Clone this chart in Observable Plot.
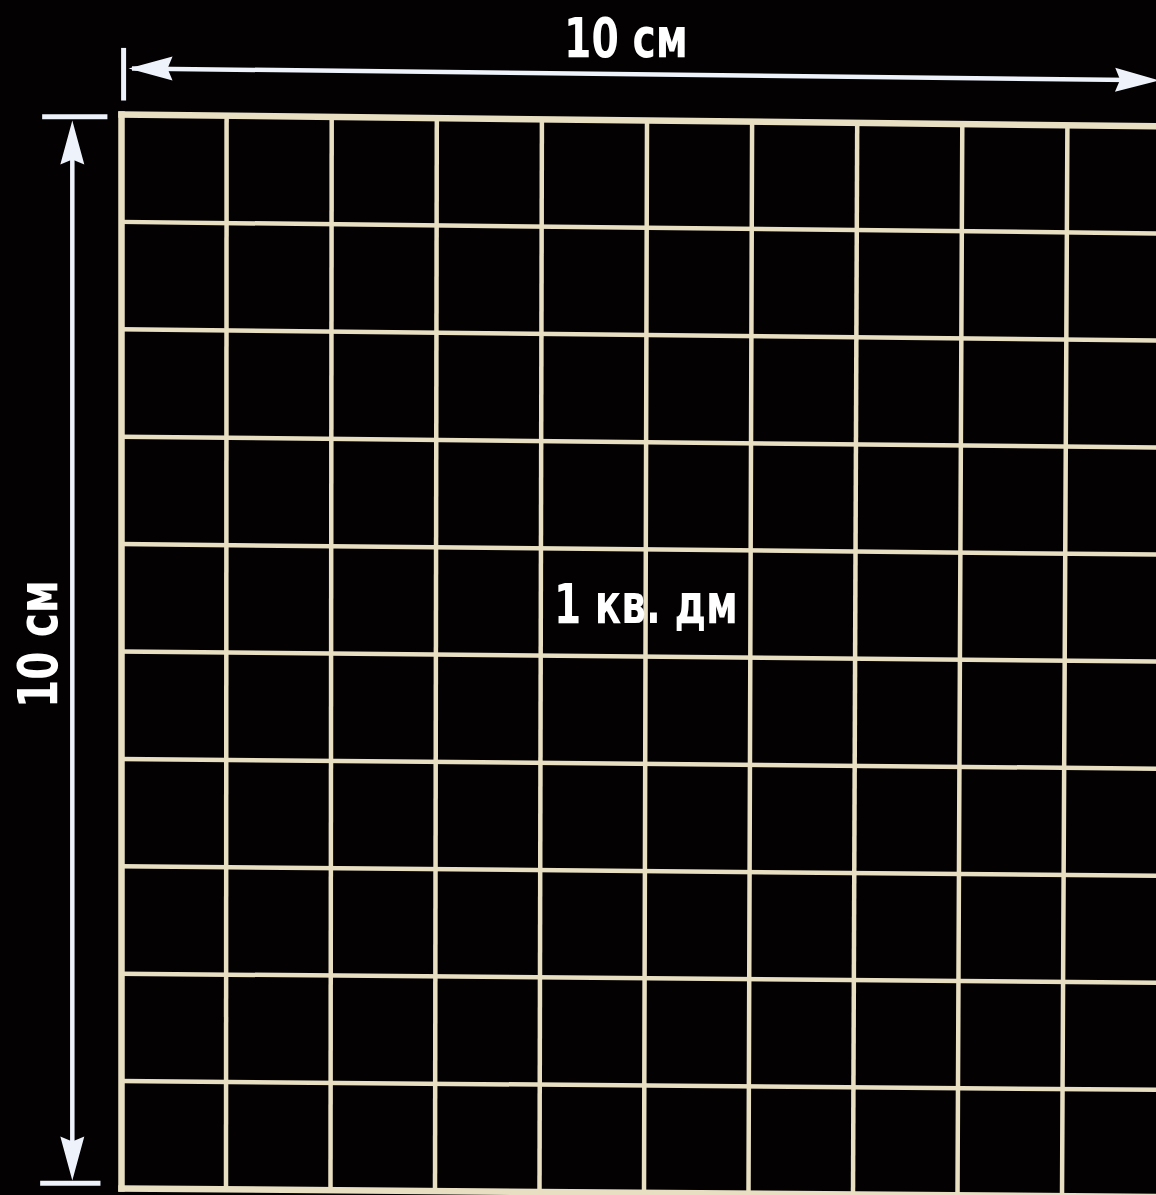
<!DOCTYPE html>
<html><head><meta charset="utf-8">
<script src="https://cdn.jsdelivr.net/npm/d3@7"></script>
<script src="https://cdn.jsdelivr.net/npm/@observablehq/plot@0.6"></script>
<style>html,body{margin:0;padding:0;background:#030102;overflow:hidden}</style>
</head><body><div id="chart"></div>
<script>
// ---- data ----
const cmTicks = [0, 1, 2, 3, 4, 5, 6, 7, 8, 9, 10];
const sideCm = 10;
const widthLabel = "10 см";
const heightLabel = "10 см";
const areaLabel = "1 кв. дм";

// slight rotation / perspective of the photographed original
const skewX = 0.0057;                   // u shift per u at v = 10
const skewY0 = 0.0112, skewY1 = 0.0079; // v shift per u at v = 0 and v = 10
function P(u, v) {
  const sy = skewY0 + (skewY1 - skewY0) * v / sideCm;
  return {x: u - skewX * u * v / sideCm, y: v + sy * u};
}
const vLines = cmTicks.map(u => ({u, a: P(u, 0), b: P(u, sideCm), outer: u === 0 || u === sideCm}));
const hLines = cmTicks.map(v => ({v, a: P(0, v), b: P(sideCm + 0.3, v), outer: v === 0 || v === sideCm}));

const gridColor = "#e8dfc2";
const arrowColor = "#eef2fb";
const font = "'Liberation Sans Narrow', 'DejaVu Sans Condensed', 'Roboto Condensed', sans-serif";

// dimension arrows (in cm units of the grid scales)
const hArrowV = -0.43, vArrowU = -0.468;
const hEnd = P(9.87, hArrowV);
const hShaft = [{a: P(0.1, hArrowV), b: P(9.6, hArrowV)}];
const vShaft = [{a: {x: vArrowU, y: 0.2}, b: {x: vArrowU, y: 9.75}}];
const bars = [
  {a: {x: 0.02, y: -0.62}, b: {x: 0.02, y: -0.13}},
  {a: {x: -0.755, y: 0.02}, b: {x: -0.134, y: 0.02}},
  {a: {x: -0.774, y: 9.95}, b: {x: -0.2, y: 9.95}}
];
const heads = [
  {x: P(0.067, hArrowV).x, y: P(0.067, hArrowV).y, rot: -90},
  {x: hEnd.x, y: hEnd.y, rot: 90.7},
  {x: vArrowU, y: 0.056, rot: 0},
  {x: vArrowU, y: 9.925, rot: 180}
];
function headSymbol(len, half) {
  return {draw(ctx) {
    ctx.moveTo(0, 0);
    ctx.lineTo(half, len);
    ctx.lineTo(0, len - 5);
    ctx.lineTo(-half, len);
    ctx.closePath();
  }};
}
const textOpts = {text: d => d, fill: "white", fontSize: 56, fontWeight: "bold",
  fontFamily: font, textAnchor: "middle", lineAnchor: "middle"};

const chart = Plot.plot({
  width: 1156,
  height: 1195,
  margin: 0,
  style: {background: "#030102", overflow: "hidden"},
  x: {domain: [0, sideCm], range: [121, 1172], axis: null},
  y: {domain: [0, sideCm], range: [114, 1188], axis: null},
  marks: [
    Plot.link(vLines, {x1: d => d.a.x, y1: d => d.a.y, x2: d => d.b.x, y2: d => d.b.y,
      stroke: gridColor, strokeWidth: d => d.outer ? 6.5 : 4.5, strokeLinecap: "square"}),
    Plot.link(hLines, {x1: d => d.a.x, y1: d => d.a.y, x2: d => d.b.x, y2: d => d.b.y,
      stroke: gridColor, strokeWidth: d => d.outer ? 6.5 : 4.5, strokeLinecap: "square"}),
    Plot.link(hShaft.concat(vShaft), {x1: d => d.a.x, y1: d => d.a.y, x2: d => d.b.x, y2: d => d.b.y,
      stroke: arrowColor, strokeWidth: 4.5}),
    Plot.link(bars, {x1: d => d.a.x, y1: d => d.a.y, x2: d => d.b.x, y2: d => d.b.y,
      stroke: arrowColor, strokeWidth: 5}),
    Plot.dot(heads, {x: "x", y: "y", rotate: "rot", symbol: headSymbol(44, 12), r: 10,
      fill: arrowColor, stroke: "none"}),
    Plot.text([widthLabel], {...textOpts, x: 4.8, y: -0.70, className: "lbl-w"}),
    Plot.text([heightLabel], {...textOpts, x: -0.784, y: 4.93, rotate: -90, className: "lbl-h"}),
    Plot.text([areaLabel], {...textOpts, x: 4.99, y: 4.57, className: "lbl-a"})
  ]
});
// narrow lettering like the original
const svg = d3.select(chart);
[["lbl-w", 124], ["lbl-h", 128], ["lbl-a", 184]].forEach(([cls, len]) => {
  svg.selectAll(`.${cls} text`).attr("textLength", len).attr("lengthAdjust", "spacingAndGlyphs");
});
document.getElementById("chart").appendChild(chart);
</script>
</body></html>
